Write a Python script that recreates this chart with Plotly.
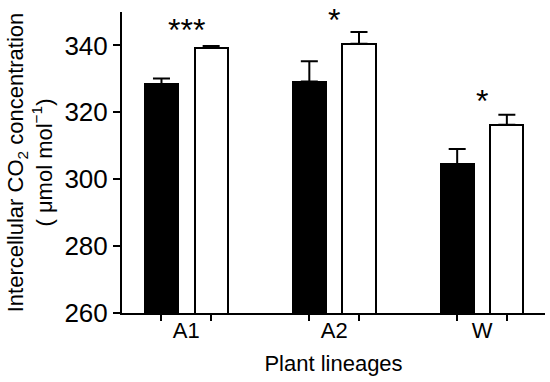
import plotly.graph_objects as go

# --- data ---
categories = ["A1", "A2", "W"]
dark_vals = [328.4, 329.2, 304.5]
dark_err = [1.7, 6.1, 4.5]
light_vals = [339.2, 340.5, 316.3]
light_err = [0.6, 3.5, 3.0]
stars = ["***", "*", "*"]
star_y = [344.5, 347.6, 323.5]
y_ticks = [260, 280, 300, 320, 340]

FONT = "Liberation Sans, Arial, sans-serif"
off = 0.168
bw = 0.224
idx = list(range(len(categories)))
x_dark = [i - off for i in idx]
x_light = [i + off for i in idx]

fig = go.Figure()

fig.add_trace(go.Bar(
    x=x_dark, y=dark_vals, width=bw, base=0,
    marker=dict(color="black", line=dict(color="black", width=2)),
    error_y=dict(type="data", symmetric=False, array=dark_err,
                 arrayminus=[0] * len(dark_err),
                 color="black", thickness=2, width=8.5),
    showlegend=False,
))
fig.add_trace(go.Bar(
    x=x_light, y=light_vals, width=bw, base=0,
    marker=dict(color="white", line=dict(color="black", width=2)),
    error_y=dict(type="data", symmetric=False, array=light_err,
                 arrayminus=[0] * len(light_err),
                 color="black", thickness=2, width=8.5),
    showlegend=False,
))

# significance stars
for i, s in enumerate(stars):
    fig.add_annotation(x=i, y=star_y[i], text=s, showarrow=False,
                       font=dict(family=FONT, size=32, color="black"),
                       xanchor="center", yanchor="middle")

fig.update_xaxes(
    range=[-0.435, 2.426], automargin=False,
    tickmode="array", tickvals=idx, ticktext=categories,
    ticks="", showline=True, linecolor="black", linewidth=2,
    tickfont=dict(family=FONT, size=22, color="black"),
    minor=dict(tickmode="array", tickvals=x_dark + x_light,
               ticks="outside", ticklen=6, tickwidth=2, tickcolor="black"),
    ticklabelstandoff=-3,
    title=dict(text="Plant lineages", font=dict(family=FONT, size=22, color="black"),
               standoff=13),
    showgrid=False, zeroline=False,
)
fig.update_yaxes(
    range=[260, 350], automargin=False,
    tickmode="array", tickvals=y_ticks,
    ticks="outside", ticklen=7, tickwidth=2, tickcolor="black",
    showline=True, linecolor="black", linewidth=2,
    tickfont=dict(family=FONT, size=26, color="black"),
    title=dict(text="Intercellular CO<sub>2</sub> concentration<br>( μmol mol<sup>−1</sup>)",
               font=dict(family=FONT, size=22, color="black"), standoff=6),
    showgrid=False, zeroline=False,
)

fig.update_layout(
    width=550, height=382,
    margin=dict(l=122, r=5, t=12, b=69),
    plot_bgcolor="white", paper_bgcolor="white",
    bargap=0, barmode="overlay",
)

# drop the browser's default 8px body margin so the figure fills the window
fig.write_html("out.html", config={"displayModeBar": False},
               post_script="document.body.style.margin='0';")
